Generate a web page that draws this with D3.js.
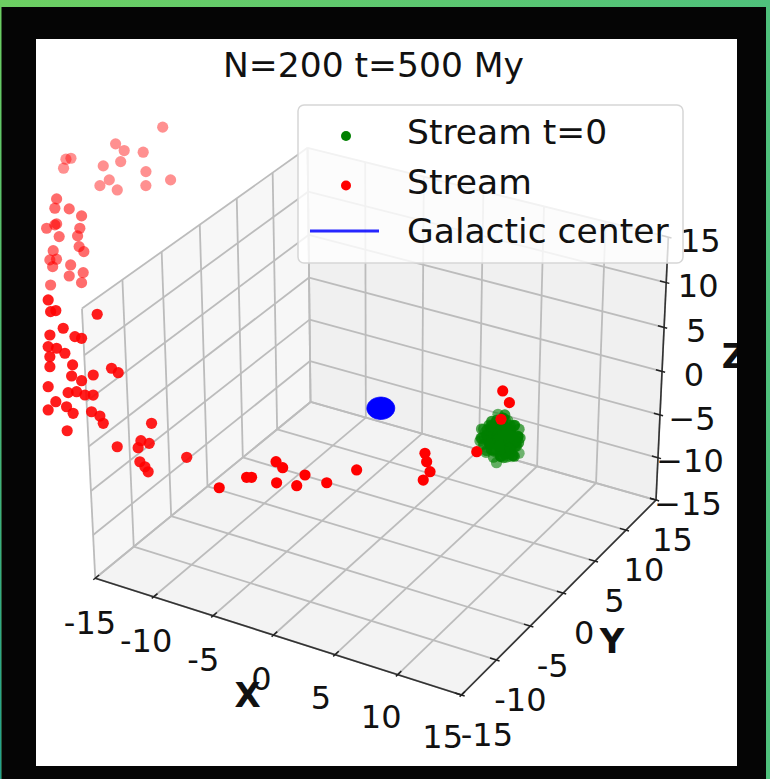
<!DOCTYPE html>
<html><head><meta charset="utf-8">
<script src="https://cdn.jsdelivr.net/npm/d3@7/dist/d3.min.js"></script>
<style>html,body{margin:0;padding:0;background:#000;overflow:hidden}svg{display:block}</style>
</head><body><svg id="c" width="770" height="779"></svg>
<script>
// ---------------- data ----------------
const titleText = "N=200 t=500 My";
const tickValues = [-15, -10, -5, 0, 5, 10, 15];
const xTickLabels = ["-15", "-10", "-5", "0", "5", "10", "15"];
const yTickLabels = ["-15", "-10", "-5", "0", "5", "10", "15"];
const zTickLabels = ["\u221215", "\u221210", "\u22125", "0", "5", "10", "15"];
const axisLimits = [-15, 15];
const axisNames = ["X", "Y", "Z"];
const legendLabels = ["Stream t=0", "Stream", "Galactic center"];
const seriesColors = ["#008000", "#ff0000", "#0000ff"];

const centerPosition = [0, 0, 0];
const centerRadius = 1;

// Stream at t=0 (initial cluster)
const initX = [9.7,10.2,9.1,10.5,8.8,10.0,9.5,10.8,8.6,10.3,9.3,9.9,9.0,10.7,9.8,8.5,11.0,9.4,10.1,10.6,8.9,10.9,8.7,9.7,9.7,10.4,9.2,10.0,9.5,10.3,9.1,11.1,8.3,9.9,9.6,10.6,8.8,10.2,9.2,10.8,8.6,10.1,9.3,10.5,8.9,9.8,9.6,10.9,9.4,10.3,8.4,10.7,9.0,9.9,9.5,11.3,8.5,10.0,10.2,11.2,
 10.0,9.4,10.2,9.1,9.9,9.5,10.6,8.8,10.1,9.3,9.7,9.7,10.4,9.0,10.7,8.7,10.2,9.2,10.3,9.1,10.9,8.5,10.0,9.4,10.5,8.9,9.8,9.6,11.0,8.4,10.1,9.3,10.8,8.6,9.9,9.5,10.6,8.8,10.3,9.1,11.1,9.7,9.8,8.3,11.0,
 9.9,9.5,10.1,9.3,9.8,9.6,10.4,9.0,10.0,9.4,10.3,9.1,9.7,9.7,10.6,8.9,10.2,9.2,9.9,9.5,10.5,8.9,10.0,9.4,10.8,8.6,10.2,9.2];
const initY = [0.0,0.3,0.2,-0.5,-0.3,0.9,-0.9,0.4,0.6,-1.0,1.1,-0.3,-0.8,0.9,0.5,-0.1,-0.2,0.0,0.2,-0.9,1.0,0.6,-1.0,1.3,-1.3,0.0,-0.4,-0.6,0.7,0.6,-0.6,0.1,0.1,0.1,-0.2,-0.4,0.4,1.0,-1.1,-0.7,0.8,-0.1,0.3,0.3,-0.2,0.9,-0.8,-1.0,1.2,-1.2,-0.6,0.2,0.9,-0.5,0.4,-0.4,-0.5,-0.2,0.8,-0.9,
 0.4,-0.2,-0.2,0.5,0.6,-0.6,0.1,-0.1,-0.8,0.8,0.0,0.0,0.7,-0.7,-0.3,0.3,0.5,-0.5,-0.6,0.6,0.0,0.0,1.0,-1.0,-0.8,0.8,-0.4,0.4,0.5,-0.4,0.0,0.0,-0.6,0.5,0.3,-0.3,0.8,-0.8,0.2,-0.2,-0.5,0.6,-0.7,0.7,-1.0,
 0.2,-0.1,-0.3,0.3,0.1,-0.1,0.2,-0.2,-0.5,0.5,0.4,-0.4,0.3,-0.3,-0.2,0.2,0.6,-0.6,-0.7,0.7,0.0,0.0,0.2,-0.2,0.3,-0.3,-0.9,0.9];
const initZ = [0.3,0.9,-0.1,0.5,1.2,-0.5,1.5,-0.3,0.4,-0.7,1.6,-1.3,-0.9,1.2,2.1,-0.6,0.8,2.3,-1.7,1.8,-1.1,-1.2,0.7,0.5,0.0,1.3,0.6,1.0,0.1,0.3,0.2,0.4,0.8,-0.7,1.3,-0.1,0.9,1.3,-0.4,0.2,-0.2,1.9,-1.4,-0.8,1.7,1.8,-1.2,1.2,-0.7,0.6,0.0,2.1,2.2,2.4,-1.9,1.5,0.3,2.9,-2.0,-0.3,
 0.6,-0.2,-0.3,1.1,-0.9,-0.6,0.9,0.1,0.4,0.3,1.5,-0.9,-0.4,1.0,-0.6,-0.7,1.7,1.9,-1.1,-1.0,0.0,0.6,0.8,0.3,-0.3,0.9,0.7,-0.1,0.6,1.2,-1.2,2.0,1.5,-0.9,1.2,-1.0,0.5,-0.1,-1.5,2.2,-0.7,2.6,-1.8,-0.3,0.5,
 0.2,0.5,0.1,0.0,-0.3,0.9,0.4,0.4,-0.2,0.7,1.0,-0.3,-0.6,1.1,-0.2,0.6,0.0,0.5,0.8,-0.4,1.4,-0.5,-1.4,1.8,0.2,0.3,0.0,0.6];

// Stream at t=500 My
const streamX = [-28.88,-31.70,-30.99,-29.69,-34.40,-34.72,-34.70,-32.09,-31.01,-29.12,-27.31,-31.41,-31.92,-30.68,-28.85,
 -30.56,-30.50,-29.55,-28.61,-30.65,-30.18,-30.08,-28.49,-29.67,-28.49,-28.18,-27.78,-29.79,-29.83,-29.41,-29.52,-28.38,-27.42,-28.26,-27.33,-29.30,
 -21.26,-20.60,-20.90,-18.00,-19.83,-18.96,-18.52,-20.52,-20.42,-19.87,-19.27,-20.13,-18.59,-16.14,-15.65,-19.95,-18.45,-17.75,-17.14,-19.69,-18.36,-17.86,-17.29,-16.78,-18.95,-18.20,-17.68,-16.58,-15.99,-15.65,-17.73,-12.69,-19.27,-14.37,
 -13.03,-13.07,-12.47,-12.71,-12.31,-12.02,-9.92,
 -5.02,-3.56,-3.26,-2.07,-1.56,-1.66,-0.40,-0.09,1.35,2.92,6.73,6.98,7.36,7.10,9.81,10.29,10.90,10.69,
 -44.49,-44.52,-45.43];
const streamY = [16.33,13.94,14.04,14.72,11.72,11.50,11.10,12.71,13.53,14.16,14.83,12.46,11.90,12.43,13.68,
 4.25,3.88,4.39,4.62,2.90,3.32,3.42,4.15,3.09,3.81,3.51,3.52,2.40,1.97,2.24,1.85,2.58,2.80,2.16,2.40,1.16,
 -10.27,-10.33,-10.55,-8.98,-10.62,-10.47,-10.29,-11.31,-11.73,-11.49,-11.35,-11.99,-11.44,-10.17,-10.07,-12.30,-11.82,-11.62,-11.03,-12.99,-12.47,-12.14,-11.95,-11.66,-13.19,-12.97,-12.94,-12.24,-12.08,-12.19,-13.70,-10.48,-13.72,-12.43,
 -11.40,-11.72,-11.19,-12.10,-12.08,-12.12,-10.30,
 -13.72,-12.45,-12.28,-10.95,-10.91,-11.58,-10.97,-10.36,-9.84,-8.41,-5.53,-5.73,-5.92,-6.41,-3.68,-0.91,-1.04,-1.84,
 11.82,7.11,15.04];
const streamZ = [12.23,10.70,10.09,9.94,9.39,9.30,8.48,8.69,9.08,8.17,7.41,7.41,6.89,6.49,6.89,
 10.19,9.36,9.30,8.68,7.58,7.88,7.97,7.58,6.84,6.90,5.95,5.50,5.59,4.77,4.83,4.17,4.32,3.64,3.34,2.75,2.54,
 10.75,9.86,9.77,9.55,8.38,7.68,7.54,7.82,6.84,6.71,6.29,6.00,5.31,5.03,4.66,5.16,4.38,3.99,4.47,3.49,2.99,3.07,2.79,2.79,2.23,1.81,1.26,1.39,1.03,0.42,-0.20,0.42,1.54,-1.54,
 -1.04,-1.62,-1.26,-2.80,-3.22,-3.64,-2.43,
 -1.48,-0.62,-0.62,0.66,0.17,-1.07,-1.31,-0.43,-1.07,-0.02,1.35,0.66,-0.16,-0.85,1.48,6.46,5.50,4.14,
 1.06,-8.33,8.58];

// ---------------- projection (matplotlib-like 3D view) ----------------
const elev = 30, azim = -60, dist = 10, focal = 1;
const aspect = [4, 4, 3];
const kAsp = 1.8294640721620434 * 25 / 24 / Math.hypot(...aspect);
const box = aspect.map(a => a * kAsp);
const sx3 = d3.scaleLinear().domain(axisLimits).range([-box[0] / 2, box[0] / 2]);
const sy3 = d3.scaleLinear().domain(axisLimits).range([-box[1] / 2, box[1] / 2]);
const sz3 = d3.scaleLinear().domain(axisLimits).range([-box[2] / 2, box[2] / 2]);
const er = elev * Math.PI / 180, ar = azim * Math.PI / 180;
const Wv = [Math.cos(er) * Math.cos(ar), Math.cos(er) * Math.sin(ar), Math.sin(er)];
let Uv = [-Wv[1], Wv[0], 0];
const un = Math.hypot(...Uv); Uv = Uv.map(c => c / un);
const Vv = [Wv[1] * Uv[2] - Wv[2] * Uv[1], Wv[2] * Uv[0] - Wv[0] * Uv[2], Wv[0] * Uv[1] - Wv[1] * Uv[0]];
const dot = (a, b) => a[0] * b[0] + a[1] * b[1] + a[2] * b[2];
const screenX = d3.scaleLinear().domain([0, 0.1]).range([380.8, 380.8 + 352.4]);
const screenY = d3.scaleLinear().domain([0, 0.1]).range([408.25, 408.25 - 344.1]);
function proj(x, y, z) {
  const Q = [sx3(x), sy3(y), sz3(z)];
  const xv = dot(Uv, Q), yv = dot(Vv, Q), wq = dot(Wv, Q);
  const den = dist - wq;
  return { x: screenX(focal * xv / den), y: screenY(focal * yv / den), d: 10 / (wq - dist) };
}

// ---------------- drawing ----------------
const svg = d3.select("#c");
const defs = svg.append("defs");
const gbg = defs.append("linearGradient").attr("id", "gbg").attr("x1", 0).attr("y1", 0).attr("x2", 1).attr("y2", 0);
gbg.append("stop").attr("offset", 0).attr("stop-color", "#6dcf62");
gbg.append("stop").attr("offset", 1).attr("stop-color", "#4fc17c");
const gl = defs.append("linearGradient").attr("id", "gl").attr("x1", 0).attr("y1", 0).attr("x2", 0).attr("y2", 1);
gl.append("stop").attr("offset", 0).attr("stop-color", "#6dcf62");
gl.append("stop").attr("offset", 1).attr("stop-color", "#22a08e");
svg.append("rect").attr("width", 770).attr("height", 779).attr("fill", "url(#gbg)");
svg.append("rect").attr("x", 0).attr("y", 0).attr("width", 1.5).attr("height", 779).attr("fill", "url(#gl)");
svg.append("rect").attr("x", 1.5).attr("y", 7).attr("width", 764.5).attr("height", 772).attr("fill", "#050505");
svg.append("rect").attr("x", 36).attr("y", 39).attr("width", 701).attr("height", 727).attr("fill", "#ffffff");
defs.append("clipPath").attr("id", "clip").append("rect").attr("x", 36).attr("y", 39).attr("width", 701).attr("height", 727);
const root = svg.append("g").attr("clip-path", "url(#clip)");

const lo = axisLimits[0], hi = axisLimits[1];
const line = d3.line().x(d => d.x).y(d => d.y);
const pt = p => proj(p[0], p[1], p[2]);

// panes (x=lo, y=hi, z=lo)
const panes = [
  { c: "rgba(240,240,240,0.55)", pts: [[lo, lo, lo], [lo, hi, lo], [lo, hi, hi], [lo, lo, hi]] },
  { c: "rgba(228,228,228,0.55)", pts: [[lo, hi, lo], [hi, hi, lo], [hi, hi, hi], [lo, hi, hi]] },
  { c: "rgba(234,234,234,0.55)", pts: [[lo, lo, lo], [hi, lo, lo], [hi, hi, lo], [lo, hi, lo]] }
];
root.append("g").selectAll("path").data(panes).join("path")
  .attr("d", p => line(p.pts.map(pt)) + "Z").attr("fill", p => p.c).attr("stroke", p => p.c).attr("stroke-width", 1);

// grid lines
const grid = [];
tickValues.forEach(t => {
  grid.push([[t, lo, lo], [t, hi, lo]]);
  grid.push([[lo, t, lo], [hi, t, lo]]);
  grid.push([[lo, t, lo], [lo, t, hi]]);
  grid.push([[lo, lo, t], [lo, hi, t]]);
  grid.push([[t, hi, lo], [t, hi, hi]]);
  grid.push([[lo, hi, t], [hi, hi, t]]);
});
root.append("g").selectAll("path").data(grid).join("path")
  .attr("d", s => line(s.map(pt))).attr("fill", "none").attr("stroke", "#bcbcbc").attr("stroke-width", 1.8);

// axis lines
const axes = [[[lo, lo, lo], [hi, lo, lo]], [[hi, lo, lo], [hi, hi, lo]], [[hi, hi, lo], [hi, hi, hi]]];
root.append("g").selectAll("path").data(axes).join("path")
  .attr("d", s => line(s.map(pt))).attr("fill", "none").attr("stroke", "#333").attr("stroke-width", 1.6);

// tick marks
const tk = [];
tickValues.forEach(t => {
  tk.push([[t, lo + 0.5, lo], [t, lo - 0.25, lo]]);
  tk.push([[hi - 0.5, t, lo], [hi + 0.25, t, lo]]);
  tk.push([[hi - 0.5, hi, t], [hi + 0.25, hi, t]]);
});
root.append("g").selectAll("path").data(tk).join("path")
  .attr("d", s => line(s.map(pt))).attr("fill", "none").attr("stroke", "#222").attr("stroke-width", 1.5);

// tick labels
const TF = 32;
const tl = root.append("g").attr("font-family", "DejaVu Sans").attr("font-size", TF).attr("fill", "#111").attr("text-anchor", "middle");
tickValues.forEach((t, i) => {
  const px = proj(t, lo, lo);
  tl.append("text").attr("x", px.x - 12 - 0.45 * t).attr("y", px.y + 43 - 0.08 * t + 0.364 * TF).text(xTickLabels[i]);
  const py = proj(hi, t, lo);
  tl.append("text").attr("x", py.x + 21 - 0.3 * t).attr("y", py.y + 39 + 0.364 * TF).text(yTickLabels[i]);
  const pz = proj(hi, hi, t);
  tl.append("text").attr("x", pz.x + 32).attr("y", pz.y + 3 + 0.364 * TF).text(zTickLabels[i]);
});

// axis labels
const AF = 34;
const al = root.append("g").attr("font-family", "DejaVu Sans").attr("font-weight", "bold").attr("font-size", AF).attr("fill", "#111").attr("text-anchor", "middle");
const xm = proj(0, lo, lo), ym = proj(hi, 0, lo), zm = proj(hi, hi, 0);
al.append("text").attr("x", xm.x - 26).attr("y", xm.y + 60 + 0.364 * AF).text(axisNames[0]);
al.append("text").attr("x", ym.x + 49).attr("y", ym.y + 47 + 0.364 * AF).text(axisNames[1]);
al.append("text").attr("x", zm.x + 72).attr("y", zm.y - 16 + 0.364 * AF).text(axisNames[2]);

// galactic center sphere
const sph = [];
for (let i = 0; i <= 16; i++) for (let j = 0; j < 32; j++) {
  const th = Math.PI * i / 16, ph = 2 * Math.PI * j / 32;
  const p = proj(centerPosition[0] + centerRadius * Math.sin(th) * Math.cos(ph),
                 centerPosition[1] + centerRadius * Math.sin(th) * Math.sin(ph),
                 centerPosition[2] + centerRadius * Math.cos(th));
  sph.push([p.x, p.y]);
}
const hull = d3.polygonHull(sph);
root.append("path").attr("d", "M" + hull.join("L") + "Z").attr("fill", seriesColors[2]).attr("stroke", seriesColors[2]).attr("stroke-width", 0.8);

// scatter with depth shading
function scatter(X, Y, Z, color) {
  const P = X.map((x, i) => proj(x, Y[i], Z[i]));
  const ext = d3.extent(P, p => p.d);
  const nrm = d3.scaleLinear().domain(ext).range([0, 1]);
  P.forEach(p => p.a = 1 - 0.7 * nrm(p.d));
  P.sort((a, b) => b.d - a.d);
  root.append("g").selectAll("circle").data(P).join("circle")
    .attr("cx", p => p.x).attr("cy", p => p.y).attr("r", 5.6)
    .attr("fill", color).attr("fill-opacity", p => p.a);
}
scatter(initX, initY, initZ, seriesColors[0]);
scatter(streamX, streamY, streamZ, seriesColors[1]);

// legend
const LF = 34.5;
const lg = svg.append("g");
lg.append("rect").attr("x", 298).attr("y", 105).attr("width", 385).attr("height", 158).attr("rx", 6)
  .attr("fill", "rgba(255,255,255,0.8)").attr("stroke", "#d6d6d6").attr("stroke-width", 1.5);
const rowsY = [144, 193.5, 243];
lg.append("circle").attr("cx", 346).attr("cy", rowsY[0] - 8).attr("r", 5).attr("fill", seriesColors[0]);
lg.append("circle").attr("cx", 346).attr("cy", rowsY[1] - 8).attr("r", 5).attr("fill", seriesColors[1]);
lg.append("line").attr("x1", 310).attr("x2", 379).attr("y1", rowsY[2] - 12).attr("y2", rowsY[2] - 12)
  .attr("stroke", seriesColors[2]).attr("stroke-width", 2.8).attr("stroke-opacity", 0.85);
lg.selectAll("text").data(legendLabels).join("text")
  .attr("x", 407).attr("y", (d, i) => rowsY[i]).attr("font-family", "DejaVu Sans").attr("font-size", LF).attr("fill", "#111").text(d => d);

// title
svg.append("text").attr("x", 373.5).attr("y", 77).attr("text-anchor", "middle")
  .attr("font-family", "DejaVu Sans").attr("font-size", 34.5).attr("fill", "#111").text(titleText);
</script></body></html>
